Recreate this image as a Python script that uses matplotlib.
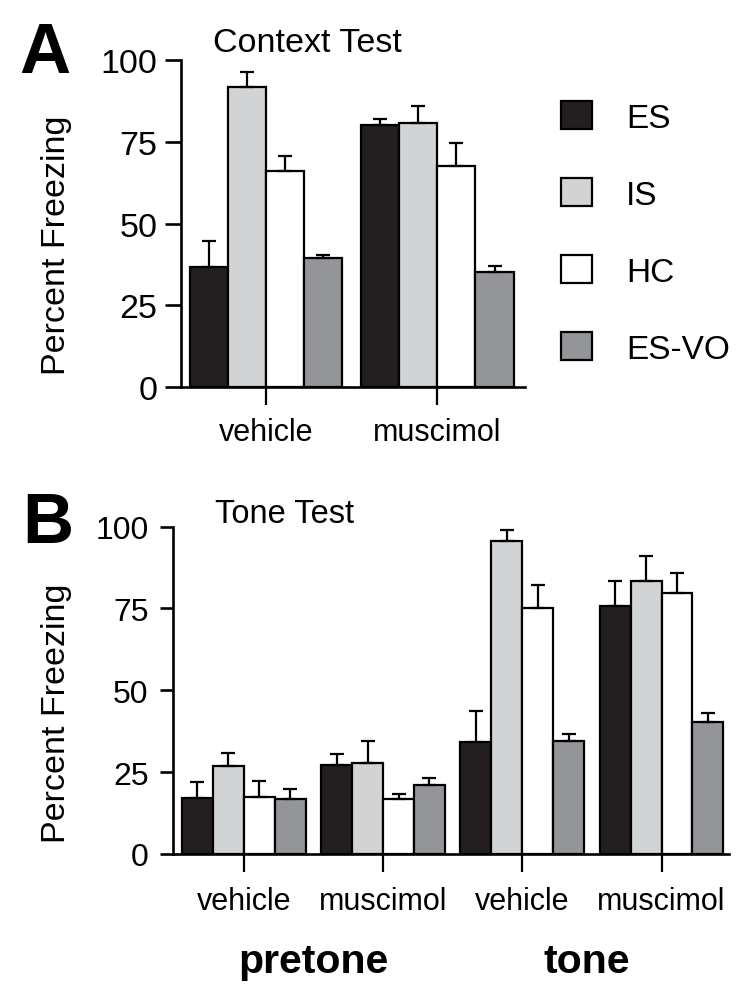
import numpy as np
import matplotlib
matplotlib.use("Agg")
import matplotlib.pyplot as plt

plt.rcParams['font.family'] = ['Liberation Sans', 'DejaVu Sans']

W, H = 751, 1003

groups = ['ES', 'IS', 'HC', 'ES-VO']
colors = ['#231f20', '#d1d3d4', '#ffffff', '#939598']

# Panel A - context test (vehicle, muscimol)
a_labels = ['vehicle', 'muscimol']
a_mean = {'ES': [36.8, 80.0], 'IS': [91.6, 80.7], 'HC': [66.0, 67.6], 'ES-VO': [39.4, 35.2]}
a_err = {'ES': [7.8, 2.1], 'IS': [4.7, 5.2], 'HC': [4.6, 7.0], 'ES-VO': [1.1, 1.8]}

# Panel B - tone test (pretone vehicle, pretone muscimol, tone vehicle, tone muscimol)
b_labels = ['vehicle', 'muscimol', 'vehicle', 'muscimol']
b_mean = {'ES': [17.0, 27.3, 34.2, 75.8], 'IS': [27.0, 27.9, 95.5, 83.4],
          'HC': [17.3, 16.8, 75.2, 79.8], 'ES-VO': [16.8, 21.1, 34.4, 40.3]}
b_err = {'ES': [5.1, 3.1, 9.4, 7.7], 'IS': [3.8, 6.5, 3.5, 7.6],
         'HC': [5.0, 1.4, 7.0, 6.0], 'ES-VO': [2.9, 2.0, 2.2, 2.8]}

y_ticks = [0, 25, 50, 75, 100]


def px(x, y):
    return x / W, 1 - y / H


def draw_panel(ax, labels, means, errs, capsize, xlim, tick_fs, tick_len, tick_pad, xpad):
    centers = np.arange(len(labels)) * 4.5
    handles = []
    for i, g in enumerate(groups):
        xs = centers + (i - 1.5)
        n = len(xs)
        b = ax.bar(xs, means[g], width=1.0, color=colors[i], edgecolor='black',
                   linewidth=1.6, zorder=2, label=g)
        handles.append(b)
        ax.errorbar(xs, means[g], yerr=[np.zeros(n), errs[g]], fmt='none',
                    ecolor='black', elinewidth=1.6, capsize=capsize, capthick=1.6, zorder=3)
    ax.set_xlim(*xlim)
    ax.set_ylim(0, 100)
    ax.set_yticks(y_ticks)
    ax.set_xticks(centers)
    ax.set_xticklabels(labels, fontsize=22)
    ax.tick_params(axis='y', labelsize=tick_fs, length=tick_len, width=1.9, pad=tick_pad)
    ax.tick_params(axis='x', length=13, width=1.6, pad=xpad)
    for s in ['top', 'right']:
        ax.spines[s].set_visible(False)
    for s in ['left', 'bottom']:
        ax.spines[s].set_linewidth(1.9)
    return handles


fig = plt.figure(figsize=(W / 100, H / 100), dpi=100)

# panel A axes
axA = fig.add_axes([181 / W, 1 - 388.3 / H, (525 - 181) / W, (388.3 - 61) / H])
handles = draw_panel(axA, a_labels, a_mean, a_err, 5.2, (-2.23, 6.8), 24.5, 11.5, 5.5, 8.5)

# panel B axes
axB = fig.add_axes([173 / W, 1 - 855 / H, (729 - 173) / W, (855 - 527.5) / H])
draw_panel(axB, b_labels, b_mean, b_err, 4.8, (-2.29, 15.68), 23, 9.5, 8, 10)

# y labels
fig.text(*px(56, 245), 'Percent Freezing', rotation=90, ha='center', va='center', fontsize=24.5)
fig.text(*px(56, 713), 'Percent Freezing', rotation=90, ha='center', va='center', fontsize=24.5)

# panel letters and titles
fig.text(*px(19, 73), 'A', fontsize=51, fontweight='bold', ha='left', va='baseline')
fig.text(*px(22, 543), 'B', fontsize=51, fontweight='bold', ha='left', va='baseline')
fig.text(*px(213, 52), 'Context Test', fontsize=24.5, ha='left', va='baseline')
fig.text(*px(215, 523), 'Tone Test', fontsize=23.5, ha='left', va='baseline')

# bottom group labels
fig.text(*px(313, 973), 'pretone', fontsize=29.5, fontweight='bold', ha='center', va='baseline')
fig.text(*px(587, 973), 'tone', fontsize=29.5, fontweight='bold', ha='center', va='baseline')

# legend
fig.legend(handles=handles, labels=groups, loc='upper left', bbox_to_anchor=px(561, 102),
           frameon=False, fontsize=24, handlelength=0.93, handleheight=0.93,
           handletextpad=1.02, labelspacing=1.33, borderpad=0, borderaxespad=0)

fig.savefig('out.png', dpi=100)
